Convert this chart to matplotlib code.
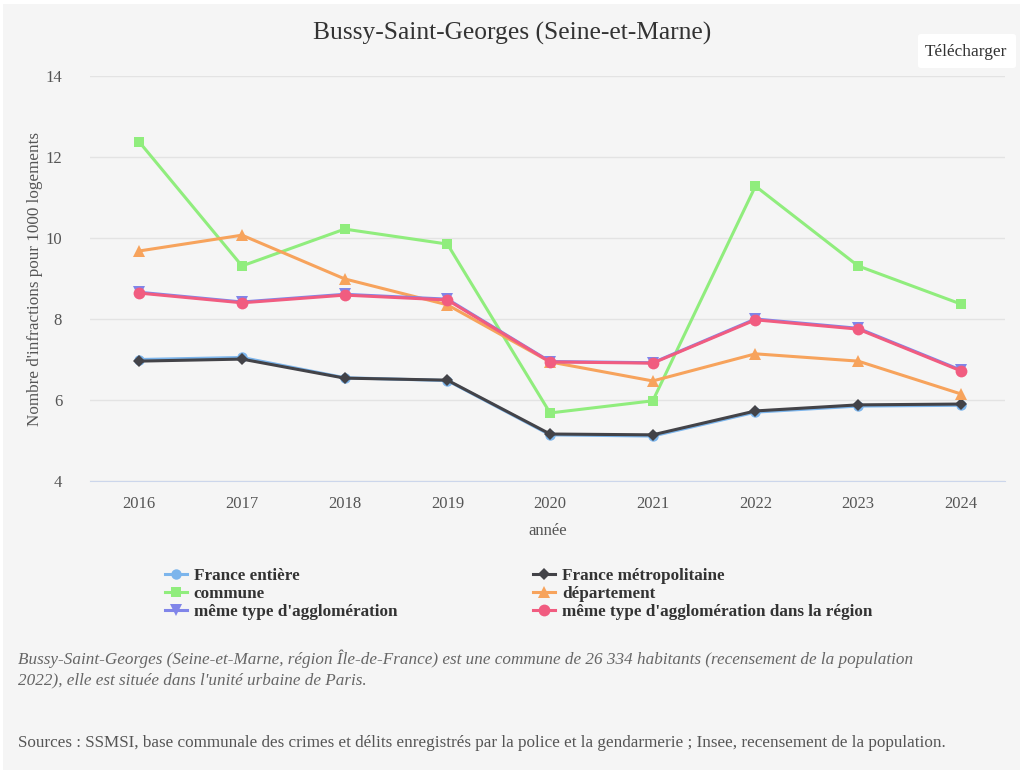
import matplotlib
matplotlib.use('Agg')
import matplotlib.pyplot as plt
from matplotlib.patches import Rectangle, FancyBboxPatch

plt.rcParams['font.family'] = ['Liberation Serif', 'DejaVu Serif']

years = [2016, 2017, 2018, 2019, 2020, 2021, 2022, 2023, 2024]

france_entiere = [7.00, 7.05, 6.55, 6.48, 5.14, 5.11, 5.70, 5.85, 5.87]
france_metro = [6.96, 7.01, 6.54, 6.49, 5.16, 5.14, 5.73, 5.88, 5.90]
commune = [12.37, 9.31, 10.22, 9.85, 5.68, 5.98, 11.28, 9.31, 8.37]
departement = [9.68, 10.07, 8.99, 8.35, 6.94, 6.47, 7.14, 6.96, 6.15]
meme_type = [8.66, 8.42, 8.61, 8.49, 6.95, 6.92, 8.00, 7.77, 6.74]
meme_type_region = [8.64, 8.40, 8.59, 8.47, 6.94, 6.91, 7.98, 7.75, 6.72]

y_ticks = [4, 6, 8, 10, 12, 14]

title = "Bussy-Saint-Georges (Seine-et-Marne)"
ylabel = "Nombre d'infractions pour 1000 logements"
xlabel = "année"
note = ("Bussy-Saint-Georges (Seine-et-Marne, région Île-de-France) est une commune de 26 334 habitants (recensement de la population\n"
        "2022), elle est située dans l'unité urbaine de Paris.")
sources = "Sources : SSMSI, base communale des crimes et délits enregistrés par la police et la gendarmerie ; Insee, recensement de la population."

W, H = 1024, 777
fig = plt.figure(figsize=(W / 100, H / 100), dpi=100)
fig.patch.set_facecolor('white')
bg = '#f5f5f5'
fig.patches.append(Rectangle((3 / W, 1 - 770 / H), 1017 / W, 766 / H, transform=fig.transFigure,
                             facecolor=bg, edgecolor='none', zorder=-5))

# axes: x 90..1005 px, y 76..481 px
ax = fig.add_axes([90 / W, 1 - 481 / H, 915 / W, 405 / H])
ax.set_facecolor(bg)
ax.set_zorder(2)

series = [
    (france_entiere, 'France entière', '#7cb5ec', 'o', 7.5),
    (france_metro, 'France métropolitaine', '#434348', 'D', 6),
    (commune, 'commune', '#90ed7d', 's', 7.5),
    (departement, 'département', '#f7a35c', '^', 8),
    (meme_type, "même type d'agglomération", '#8085e9', 'v', 8),
    (meme_type_region, "même type d'agglomération dans la région", '#f15c80', 'o', 8.5),
]
for vals, lab, col, mk, ms in series:
    ax.plot(years, vals, color=col, marker=mk, markersize=ms, linewidth=2.2, label=lab,
            markeredgewidth=0)

ax.set_xlim(2015.52, 2024.43)
ax.set_ylim(4, 14)
ax.set_yticks(y_ticks)
ax.set_xticks(years)
ax.grid(axis='y', color='#e3e3e3', linewidth=1)
ax.set_axisbelow(True)
for s in ['top', 'right', 'left']:
    ax.spines[s].set_visible(False)
ax.spines['bottom'].set_color('#ccd6eb')
ax.tick_params(length=0, labelsize=12, colors='#555555')
ax.tick_params(axis='x', pad=11)
ax.tick_params(axis='y', pad=20)
ax.set_xlabel(xlabel, fontsize=12, color='#555555', labelpad=8)
ax.set_ylabel(ylabel, fontsize=12.3, color='#555555', labelpad=2)

fig.text(0.5, 1 - 33 / H, title, ha='center', va='center', fontsize=18.4, color='#333333')

# download button
fig.patches.append(FancyBboxPatch((918 / W, 1 - 68 / H), 98 / W, 34 / H, transform=fig.transFigure,
                                  boxstyle='round,pad=0,rounding_size=0.003', facecolor='white',
                                  edgecolor='none', zorder=1))
fig.text(966 / W, 1 - 52 / H, 'Télécharger', ha='center', va='center', fontsize=12.4, color='#333333')

handles, labels = ax.get_legend_handles_labels()
order = [0, 2, 4, 1, 3, 5]
leg = fig.legend([handles[i] for i in order], [labels[i] for i in order], ncol=2,
                 loc='upper left', bbox_to_anchor=(158 / W, 1 - 561 / H), frameon=False,
                 prop={'weight': 'bold', 'size': 12.3}, columnspacing=7.95, handlelength=1.3,
                 handletextpad=0.4, labelspacing=0.12, borderaxespad=0)
for t in leg.get_texts():
    t.set_color('#333333')

fig.text(18 / W, 1 - 669 / H, note, ha='left', va='center', fontsize=12.3, style='italic',
         color='#666666', linespacing=1.3)
fig.text(18 / W, 1 - 743 / H, sources, ha='left', va='center', fontsize=12.3, color='#555555')

fig.savefig('out.png', dpi=100, facecolor=fig.get_facecolor())
